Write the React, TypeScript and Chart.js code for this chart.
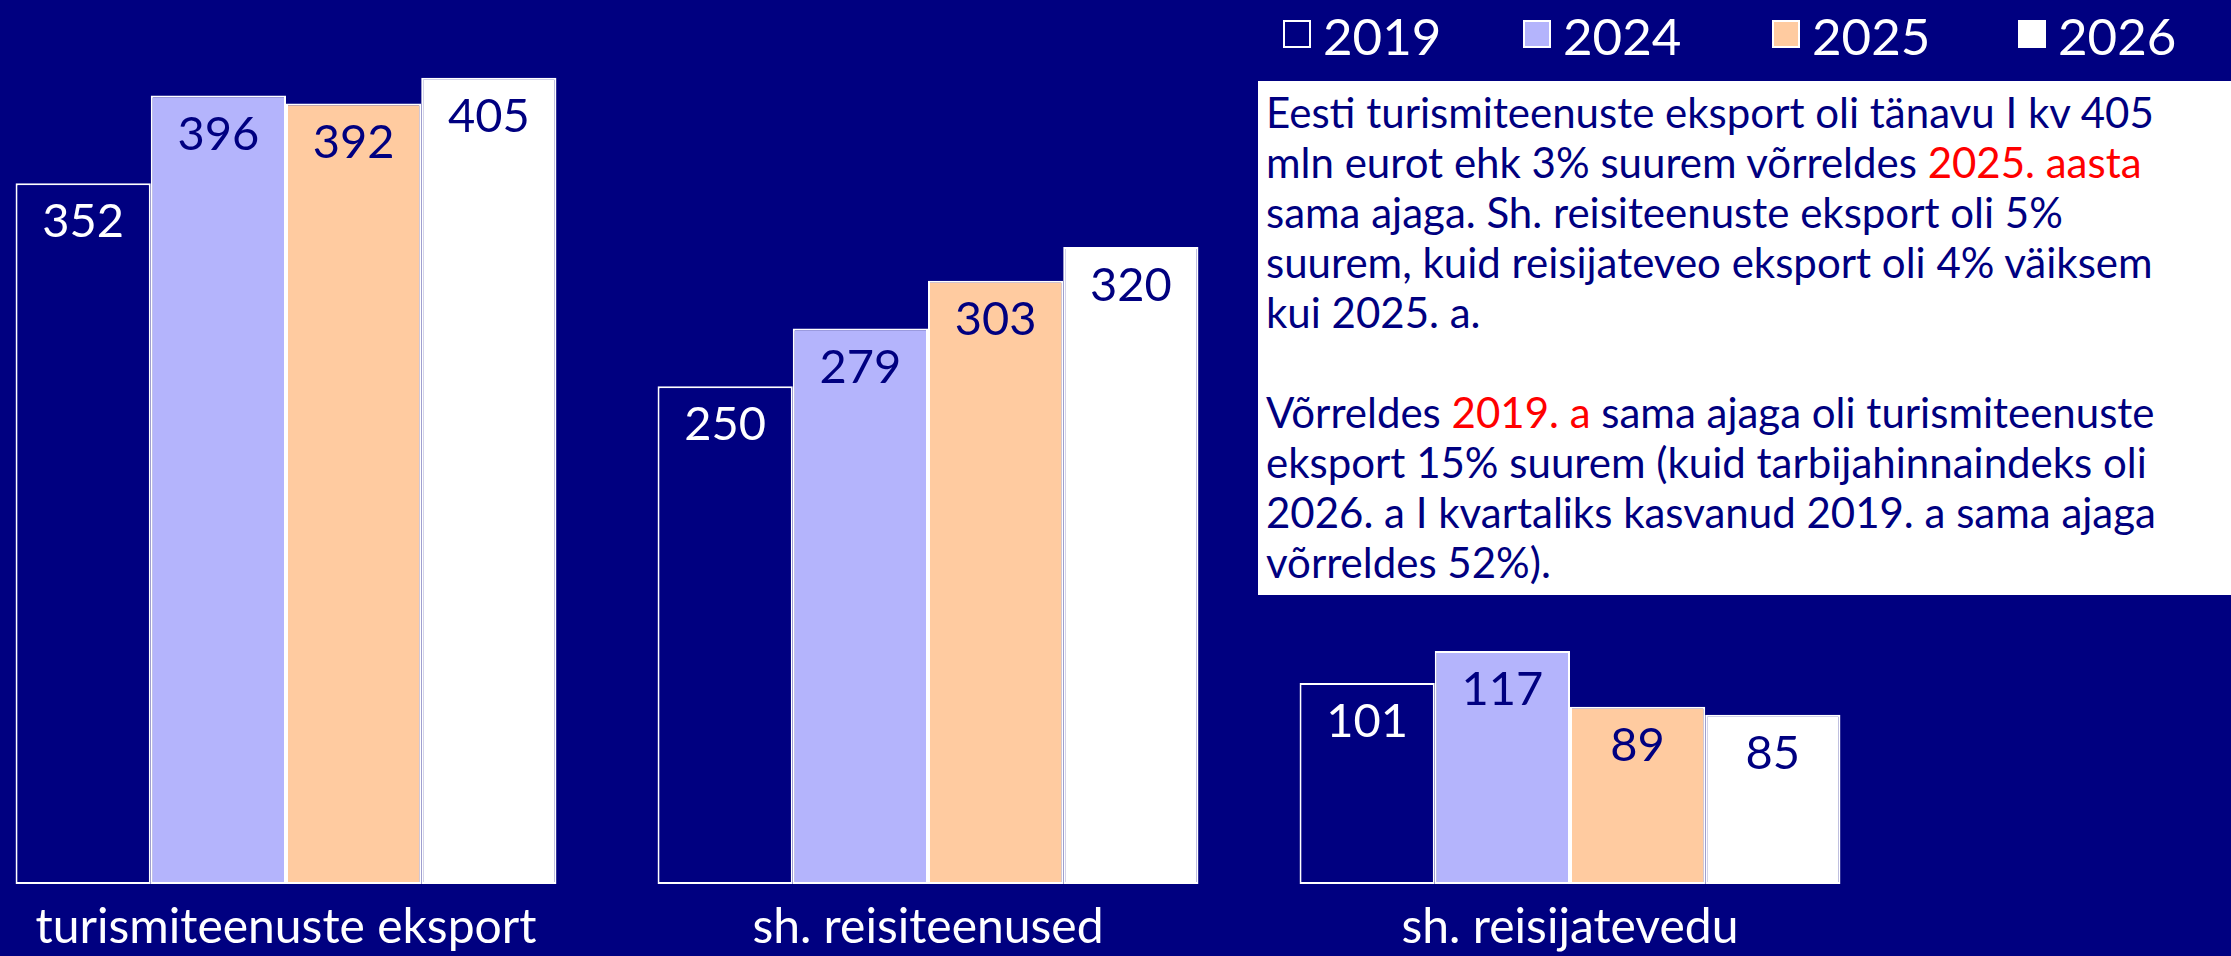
import React, { useEffect, useRef } from "react";
import { Chart, registerables } from "chart.js";

Chart.register(...registerables);

// ---- data ----
const categories = ["turismiteenuste eksport", "sh. reisiteenused", "sh. reisijatevedu"];
const seriesLabels = ["2019", "2024", "2025", "2026"];
const values2019 = [352, 250, 101];
const values2024 = [396, 279, 117];
const values2025 = [392, 303, 89];
const values2026 = [405, 320, 85];
const yMax = 440;

// ---- styles ----
const NAVY = "#000080";
const fillColors = [NAVY, "#B4B4FC", "#FFCBA0", "#FFFFFF"];
const labelColors = ["#FFFFFF", NAVY, NAVY, NAVY];
const legendLefts = [1283, 1523, 1772, 2018];
const FONT = "Lato";

const valueLabels = {
  id: "valueLabels",
  afterDatasetsDraw(chart: any) {
    const ctx = chart.ctx;
    ctx.save();
    ctx.font = `47px ${FONT}`;
    ctx.textAlign = "center";
    ctx.textBaseline = "middle";
    chart.data.datasets.forEach((ds: any, di: number) => {
      const meta = chart.getDatasetMeta(di);
      meta.data.forEach((el: any, i: number) => {
        ctx.fillStyle = labelColors[di];
        ctx.fillText(String(ds.data[i]), el.x, el.y + 39);
      });
    });
    ctx.restore();
  },
};

export default function App() {
  const ref = useRef<HTMLCanvasElement>(null);

  useEffect(() => {
    if (!ref.current) return;
    const seriesValues = [values2019, values2024, values2025, values2026];
    const chart = new Chart(ref.current, {
      type: "bar",
      data: {
        labels: categories,
        datasets: seriesLabels.map((lab, i) => ({
          label: lab,
          data: seriesValues[i],
          backgroundColor: fillColors[i],
          borderColor: "#FFFFFF",
          borderWidth: 2,
          borderSkipped: false,
          categoryPercentage: 0.8425,
          barPercentage: 1,
          clip: false as any,
        })),
      },
      options: {
        responsive: false,
        animation: false,
        devicePixelRatio: 1,
        layout: { padding: { left: 286, right: 661, top: 8, bottom: 0 } },
        plugins: { legend: { display: false }, tooltip: { enabled: false } },
        scales: {
          x: {
            offset: false,
            grid: { display: false, drawTicks: false },
            border: { display: false },
            ticks: {
              color: "#FFFFFF",
              font: { family: FONT, size: 48 },
              padding: 15,
              maxRotation: 0,
              autoSkip: false,
            },
            afterFit: (s: any) => {
              s.height = 72;
            },
          },
          y: { display: false, min: 0, max: yMax },
        },
      },
      plugins: [valueLabels],
    });
    return () => chart.destroy();
  }, []);

  const red = { color: "#FF0000" };

  return (
    <div
      style={{
        position: "fixed",
        left: 0,
        top: 0,
        width: 2231,
        height: 956,
        background: NAVY,
        overflow: "hidden",
        fontFamily: FONT,
      }}
    >
      <canvas ref={ref} width={2231} height={956} style={{ position: "absolute", left: 0, top: 0 }} />
      {seriesLabels.map((lab, i) => (
        <div
          key={lab}
          style={{
            position: "absolute",
            left: legendLefts[i],
            top: 20,
            height: 28,
            display: "flex",
            alignItems: "center",
            color: "#FFFFFF",
            whiteSpace: "nowrap",
          }}
        >
          <span
            style={{
              display: "block",
              flexShrink: 0,
              width: 28,
              height: 28,
              boxSizing: "border-box",
              background: fillColors[i],
              border: "2px solid #FFFFFF",
              marginRight: 12,
            }}
          />
          <span style={{ fontSize: 51, lineHeight: "28px", position: "relative", top: 2 }}>{lab}</span>
        </div>
      ))}
      <div
        style={{
          position: "absolute",
          left: 1258,
          top: 81,
          width: 973,
          height: 514,
          boxSizing: "border-box",
          background: "#FFFFFF",
          color: NAVY,
          fontSize: 42,
          lineHeight: "50px",
          padding: "6px 0 0 8px",
          whiteSpace: "nowrap",
        }}
      >
        <div>Eesti turismiteenuste eksport oli tänavu I kv 405</div>
        <div>
          mln eurot ehk 3% suurem võrreldes <span style={red}>2025. aasta</span>
        </div>
        <div>sama ajaga. Sh. reisiteenuste eksport oli 5%</div>
        <div>suurem, kuid reisijateveo eksport oli 4% väiksem</div>
        <div>kui 2025. a.</div>
        <div>&nbsp;</div>
        <div>
          Võrreldes <span style={red}>2019. a</span> sama ajaga oli turismiteenuste
        </div>
        <div>eksport 15% suurem (kuid tarbijahinnaindeks oli</div>
        <div>2026. a I kvartaliks kasvanud 2019. a sama ajaga</div>
        <div>võrreldes 52%).</div>
      </div>
    </div>
  );
}
